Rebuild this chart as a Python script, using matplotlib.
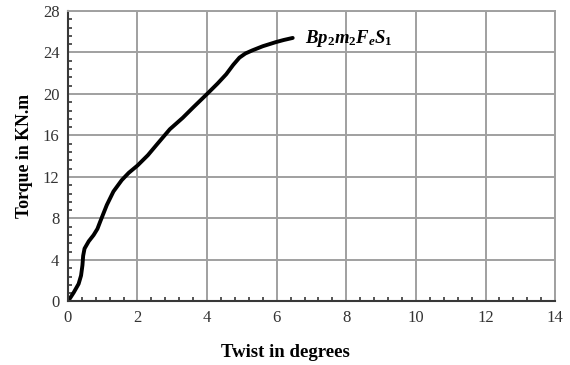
import matplotlib
matplotlib.use("Agg")
import matplotlib.pyplot as plt
from matplotlib.ticker import MultipleLocator

twist = [0.0, 0.08, 0.17, 0.31, 0.38, 0.42, 0.44, 0.48, 0.6, 0.74, 0.85, 0.93, 1.12, 1.31,
         1.55, 1.75, 2.0, 2.3, 2.55, 2.93, 3.3, 3.6, 4.0, 4.3, 4.55, 4.75, 4.93, 5.1,
         5.3, 5.6, 5.98, 6.2, 6.46]
torque = [0.0, 0.4, 0.87, 1.7, 2.5, 3.5, 4.4, 5.1, 5.8, 6.4, 7.0, 7.7, 9.3, 10.6,
          11.7, 12.4, 13.1, 14.1, 15.1, 16.6, 17.7, 18.7, 20.0, 21.0, 21.9, 22.8, 23.5, 23.9,
          24.2, 24.6, 25.0, 25.2, 25.4]
series_label = r"$Bp_2m_2F_eS_1$"
xticks = [0, 2, 4, 6, 8, 10, 12, 14]
yticks = [0, 4, 8, 12, 16, 20, 24, 28]

plt.rcParams["font.family"] = ["Liberation Serif", "DejaVu Serif"]
plt.rcParams["mathtext.fontset"] = "custom"
plt.rcParams["mathtext.it"] = "Liberation Serif:bold:italic"
plt.rcParams["mathtext.rm"] = "Liberation Serif:bold"

fig = plt.figure(figsize=(5.7, 3.65), dpi=100)
ax = fig.add_axes([0.119, 0.174, 0.855, 0.796])

ax.plot(twist, torque, color="black", lw=2.8, solid_capstyle="round", solid_joinstyle="round")
ax.text(6.8, 25.3, series_label, fontsize=13.5, va="center", ha="left")

ax.set_xlim(0, 14)
ax.set_ylim(0, 28)
ax.set_xticks(xticks)
ax.set_yticks(yticks)
ax.xaxis.set_minor_locator(MultipleLocator(0.4))
ax.yaxis.set_minor_locator(MultipleLocator(0.8))
ax.grid(True, which="major", color="#a0a0a0", lw=1.4)
ax.set_axisbelow(True)
for s in ["top", "right"]:
    ax.spines[s].set_color("#a0a0a0")
    ax.spines[s].set_linewidth(1.4)
for s in ["left", "bottom"]:
    ax.spines[s].set_color("#383838")
    ax.spines[s].set_linewidth(1.5)
ax.tick_params(which="major", direction="in", length=0, labelsize=12, colors="#333333", pad=6)
ax.tick_params(which="minor", direction="in", length=3, width=1.2, color="#383838")
ax.tick_params(axis="x", which="minor", top=False)
ax.tick_params(axis="y", which="minor", right=False)

ax.set_xlabel("Twist in degrees", fontsize=13.5, fontweight="bold", va="center")
ax.xaxis.set_label_coords(0.446, -0.177)
ax.set_ylabel("Torque in KN.m", fontsize=12.8, fontweight="bold", labelpad=7)

fig.savefig("out.png", dpi=100)
